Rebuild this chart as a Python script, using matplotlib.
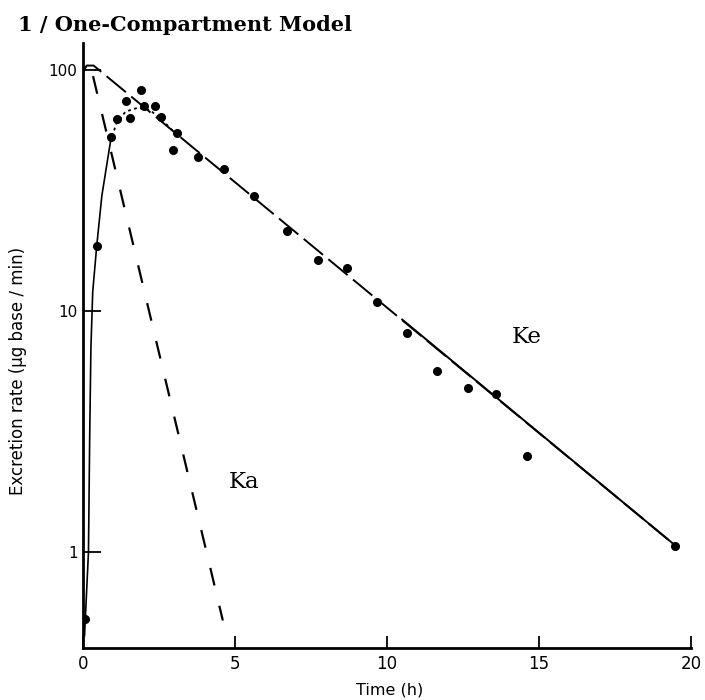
import matplotlib
matplotlib.use("Agg")
import matplotlib.pyplot as plt

# observed excretion-rate data (time in h, rate in ug base / min)
time_h = [0.07, 0.45, 0.91, 1.11, 1.41, 1.55, 1.90, 2.01, 2.37, 2.56, 2.95, 3.08,
          3.79, 4.64, 5.64, 6.72, 7.74, 8.67, 9.67, 10.65, 11.63, 12.68, 13.59,
          14.62, 19.47]
rate = [0.53, 18.5, 52.5, 62.7, 74.4, 62.9, 82.1, 70.5, 70.5, 63.5, 46.6, 54.7,
        43.5, 38.9, 29.9, 21.5, 16.3, 15.0, 10.9, 8.1, 5.64, 4.81, 4.54,
        2.50, 1.06]

# fitted curve: rising limb + peak
fit_t = [0.05, 0.18, 0.22, 0.26, 0.32, 0.45, 0.62, 0.90, 1.10, 1.40, 1.80, 2.20, 2.60, 3.00]
fit_y = [0.45, 1.0, 3.0, 7.0, 12.0, 18.5, 30.0, 50.0, 60.0, 67.0, 69.5, 68.0, 62.0, 55.0]

# elimination (Ke) line and absorption (Ka) residual line
ke_t = [0.0, 0.12, 0.35, 19.5]
ke_y = [97.0, 104.0, 104.0, 1.06]
ke_solid_t = [10.5, 19.5]
ke_solid_y = [9.2, 1.06]
ka_t = [0.33, 4.6]
ka_y = [94.0, 0.52]

xticks = [0, 5, 10, 15, 20]
xtick_labels = ["0", "5", "10", "15", "20"]
yticks = [1, 10, 100]
ytick_labels = ["1", "10", "100"]

plt.rcParams['lines.scale_dashes'] = False

fig = plt.figure(figsize=(7.05, 7.0), dpi=100)
ax = fig.add_axes([83/705, 52/700, 608/705, 605/700])
ax.set_yscale('log')
ax.set_xlim(0, 20)
ax.set_ylim(0.40, 129)

# lines
ax.plot(ke_t, ke_y, color='black', lw=1.4, linestyle=(0, (18, 5)))
ax.plot(ke_solid_t, ke_solid_y, color='black', lw=1.4, linestyle='-')
ax.plot(ka_t, ka_y, color='black', lw=1.6, linestyle=(0, (13, 15)))
ax.plot(fit_t[:8], fit_y[:8], color='black', lw=1.2, linestyle='-')
ax.plot(fit_t[7:], fit_y[7:], color='black', lw=1.3, linestyle=(0, (2, 2.5)))

# data points
ax.plot(time_h, rate, 'o', color='black', markersize=5.5, linestyle='none')

# spines and ticks
ax.spines['top'].set_visible(False)
ax.spines['right'].set_visible(False)
ax.spines['left'].set_linewidth(2.0)
ax.spines['bottom'].set_linewidth(2.0)
ax.set_xticks(xticks)
ax.set_xticklabels(xtick_labels)
ax.set_yticks(yticks)
ax.set_yticklabels(ytick_labels)
ax.minorticks_off()
ax.tick_params(axis='x', direction='in', length=9, width=1.3, pad=5, labelsize=12)
ax.tick_params(axis='y', direction='in', length=13, width=1.3, pad=4, labelsize=11)
for lab in ax.get_xticklabels() + ax.get_yticklabels():
    lab.set_family('DejaVu Sans')

ax.set_xlabel("Time (h)", fontsize=11.5)
ax.xaxis.set_label_coords((390 - 83) / 608, (648 - 690) / 605)
ax.xaxis.label.set_va('center')
ax.set_ylabel("Excretion rate (\u00b5g base / min)", fontsize=12)
ax.yaxis.set_label_coords((18 - 83) / 608, (648 - 371) / 605)
ax.yaxis.label.set_va('center')

ax.text(14.1, 7.77, "Ke", fontsize=16.5, family='DejaVu Serif', ha='left', va='center')
ax.text(4.8, 1.95, "Ka", fontsize=16.5, family='DejaVu Serif', ha='left', va='center')

fig.text(18/705, 1 - 25/700, "1 / One-Compartment Model", fontsize=15,
         family='DejaVu Serif', fontweight='bold', ha='left', va='center')

fig.savefig("out.png", dpi=100, facecolor='white')
